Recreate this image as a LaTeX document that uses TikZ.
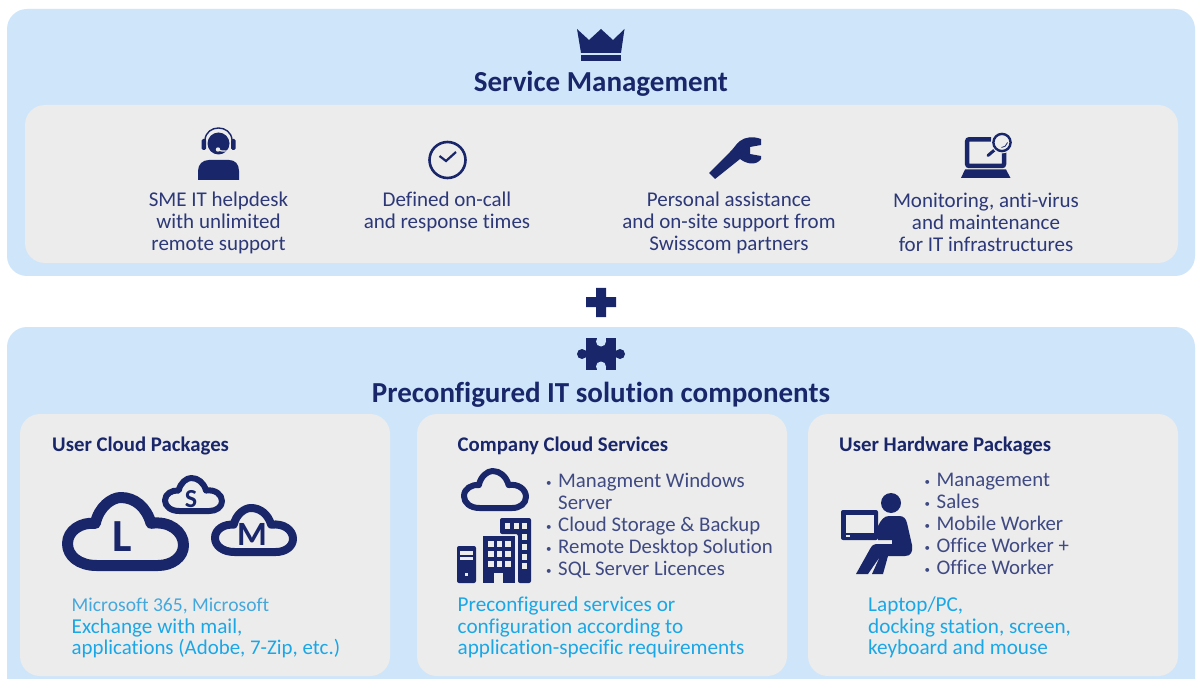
\documentclass[tikz,border=0pt]{standalone}
\usepackage{fontspec}
\setmainfont{Carlito}[Ligatures=NoCommon]
\definecolor{panelblue}{HTML}{CFE6FA}
\definecolor{cardgrey}{HTML}{ECECEC}
\definecolor{navy}{HTML}{19266A}
\definecolor{svcblue}{HTML}{2C3877}
\definecolor{listblue}{HTML}{3F4A82}
\definecolor{cyan2}{HTML}{1BA7E6}
\definecolor{cyan3}{HTML}{45A8DC}
\newcommand{\bul}{\makebox[12pt][l]{\raisebox{0.5pt}{\fontsize{11}{11}\selectfont •}}}
\newcommand{\cloudshape}[5]{% x y w h stroke
\begin{scope}[shift={(#1,#2)},x=#3pt,y=-#4pt]
\draw[navy,line width=#5pt,line join=round]
 (0.25,1) .. controls (0.1,1) and (0,0.86) .. (0,0.68)
 .. controls (0,0.48) and (0.12,0.36) .. (0.24,0.38)
 .. controls (0.27,0.14) and (0.38,0) .. (0.46,0)
 .. controls (0.58,0) and (0.68,0.14) .. (0.72,0.38)
 .. controls (0.88,0.34) and (1,0.5) .. (1,0.7)
 .. controls (1,0.88) and (0.9,1) .. (0.78,1) -- cycle;
\end{scope}}
\tikzset{
 panel/.style={fill=panelblue,draw=none,rounded corners=20pt},
 card/.style={fill=cardgrey,draw=none,rounded corners=20pt},
 svc/.style={font=\fontsize{21}{22}\selectfont,text=svcblue,align=center,inner sep=0pt},
 maintitle/.style={font=\bfseries\fontsize{29}{30}\selectfont,text=navy,inner sep=0pt},
 cardtitle/.style={font=\bfseries\fontsize{20.8}{22}\selectfont,text=navy,anchor=base west,inner sep=0pt},
 listtext/.style={font=\fontsize{20.8}{22}\selectfont,text=listblue,align=left,anchor=north west,inner sep=0pt},
 bluetext/.style={font=\fontsize{21.2}{21.5}\selectfont,text=cyan2,align=left,anchor=north west,inner sep=0pt},
}
\begin{document}
\begin{tikzpicture}[x=1pt,y=-1pt]
\useasboundingbox (0,0) rectangle (1200,679);
\clip (0,0) rectangle (1200,679);
\fill[white] (0,0) rectangle (1200,679);
% panels
\path[panel] (7,9) rectangle (1195,276);
\path[card] (25,105) rectangle (1178,263);
\path[panel] (7,327) rectangle (1195,710);
\path[card] (20,414) rectangle (390,676);
\path[card] (417,414) rectangle (787,676);
\path[card] (808,414) rectangle (1178,676);
% crown
\fill[navy] (577,29) -- (589,40) -- (601,29) -- (613,40) -- (624.5,29) -- (621,53) -- (581,53) -- cycle;
\fill[navy] (581,55.5) rectangle (621,61.5);
\node[maintitle] (t1) at (601,84) {Service Management};
% headset person
\fill[navy] (198,180) -- (198,171) .. controls (198,164) and (203,160) .. (209,160) -- (229,160) .. controls (235,160) and (239,164) .. (239,171) -- (239,180) -- cycle;
\fill[navy] (218.5,143.5) circle (11);
\draw[navy,line width=1.4pt] (205,140) .. controls (206,124) and (231,124) .. (232,140);
\fill[navy,rounded corners=1.5pt] (201.5,139) rectangle (206,150);
\fill[navy,rounded corners=1.5pt] (231,139) rectangle (235.5,150);
\draw[cardgrey,line width=1.2pt] (218,150) .. controls (223,152) and (228,151) .. (232,150);
\fill[cardgrey] (218,149.5) circle (2.2);
% clock
\draw[navy,line width=2.6pt] (447.5,160) circle (18);
\draw[navy,line width=2.2pt] (439.5,156) -- (446,161) -- (456,152);
% wrench
\fill[navy] (709,173) -- (730,152) .. controls (735,147) and (736,144) .. (740,141) .. controls (745,137) and (753,136) .. (761,139) -- (761,145) -- (750,147) -- (750,154) -- (761,156) -- (761,159) .. controls (757,165) and (748,165) .. (740,159) -- (715,179) -- cycle;
% laptop
\draw[navy,line width=4.5pt,rounded corners=2pt] (991,139.3) -- (967.2,139.3) -- (967.2,166) -- (1004,166) -- (1004,150);
\fill[navy] (965,169.5) -- (1006,169.5) -- (1010.5,178) -- (961,178) -- cycle;
\draw[cardgrey,line width=2pt] (995,150) -- (987,157);
\draw[navy,line width=3pt,line cap=round] (994.5,150) -- (988,155.5);
\fill[cardgrey] (1002,142.5) circle (11);
\draw[navy,line width=2.4pt] (1002,142.5) circle (8.6);
\draw[navy,line width=0.8pt] (1001.5,147.5) .. controls (1004.5,147.5) and (1006.5,145.5) .. (1007.5,142.5);
% texts
\node[svc] (a1) at (218.5,223) {SME IT helpdesk\\with unlimited\\remote support};
\node[svc] (a2) at (447,212) {Defined on-call\\and response times};
\node[svc] (a3) at (729,223) {Personal assistance\\and on-site support from\\Swisscom partners};
\node[svc] (a4) at (986,222) {Monitoring, anti-virus\\and maintenance\\for IT infrastructures};
% plus
\fill[navy] (596,288) -- (606,288) -- (606,297) -- (616,297) -- (616,307) -- (606,307) -- (606,317) -- (596,317) -- (596,307) -- (586,307) -- (586,297) -- (596,297) -- cycle;
% puzzle
\fill[navy] (586,338) rectangle (616,370);
\fill[navy] (582,354) circle (5);
\fill[navy] (620,354) circle (5);
\fill[panelblue] (601,341.5) circle (5);
\fill[panelblue] (601,366.5) circle (5);
\fill[panelblue] (596.5,336) rectangle (605.5,341);
\fill[panelblue] (596.5,367) rectangle (605.5,372);
\node[maintitle] (t2) at (601,395) {Preconfigured IT solution components};
% card titles
\node[cardtitle] (c1) at (52,451.5) {User Cloud Packages};
\node[cardtitle] (c2) at (457.5,451.5) {Company Cloud Services};
\node[cardtitle] (c3) at (839,451.5) {User Hardware Packages};
% clouds
\cloudshape{67.5}{497.5}{116}{68}{11}
\cloudshape{165}{478}{57}{33}{6}
\cloudshape{215}{508}{78}{44}{8}
\node[inner sep=0pt,font=\bfseries\fontsize{46}{46}\selectfont,text=navy] (l) at (122,537) {L};
\node[inner sep=0pt,font=\bfseries\fontsize{26}{26}\selectfont,text=navy] (s) at (191,499) {S};
\node[inner sep=0pt,font=\bfseries\fontsize{34}{34}\selectfont,text=navy] (m) at (252,534) {M};
\node[bluetext] (b1) at (71.5,598) {\textcolor{cyan3}{\fontsize{19.6}{21.5}\selectfont Microsoft 365, Microsoft}\\Exchange with mail,\\{\fontsize{20.9}{21.5}\selectfont applications (Adobe, 7-Zip, etc.)}};
% company icons
\cloudshape{464}{471}{62}{37}{6}
\fill[navy,rounded corners=2pt] (457,546) -- (476,546) -- (476,583) -- (457,583) -- cycle;
\fill[cardgrey] (460,551) rectangle (473,554.5);
\fill[cardgrey] (460,556.5) rectangle (473,559.5);
\fill[cardgrey] (464.5,573) rectangle (467.5,576);
\fill[navy,rounded corners=2pt] (500,534) -- (500,518) -- (531,518) -- (531,583) -- (518,583) -- (518,534) -- cycle;
\foreach \xx in {505,513.5,522} \fill[cardgrey] (\xx,523) rectangle ++(5,6);
\foreach \yy in {534,544,553.5,563} \fill[cardgrey] (522,\yy) rectangle ++(5,6);
\fill[navy] (483,536) rectangle (515,583);
\foreach \xx in {488,496.5,505} \foreach \yy in {541,551,561} \fill[cardgrey] (\xx,\yy) rectangle ++(5.5,6);
\fill[cardgrey] (494,573) rectangle (503,583);
\node[listtext] (l2) at (546,472.5) {\bul Managment Windows\\\hspace*{12pt}Server\\\bul Cloud Storage \& Backup\\\bul Remote Desktop Solution\\\bul SQL Server Licences};
\node[bluetext] (b2) at (457.5,597) {Preconfigured services or\\configuration according to\\application-specific requirements};
% hardware person
\fill[navy,rounded corners=2pt] (841,510) rectangle (878,540);
\fill[cardgrey] (846,515) rectangle (874,533);
\fill[cardgrey] (846,535) rectangle (850,537);
\fill[navy] (891,503) circle (10);
\fill[navy] (878,526) .. controls (881,520) and (884,516) .. (889,516) -- (899,516) .. controls (904,516) and (906,519) .. (907,523) -- (912,545) .. controls (913,552) and (911,556) .. (905,556) -- (888,556) -- (883,574) -- (872,574) -- (880,556.5) -- (868,574) -- (856,574) -- (870,549) .. controls (872,545) and (874,544) .. (878,544) -- (892,544) -- (892,540) -- (878,540) -- cycle;
\node[listtext] (l3) at (924.5,472.5) {\bul Management\\\bul Sales\\\bul Mobile Worker\\\bul Office Worker +\\\bul Office Worker};
\node[bluetext] (b3) at (868,597) {Laptop/PC,\\docking station, screen,\\keyboard and mouse};
\end{tikzpicture}
\end{document}
